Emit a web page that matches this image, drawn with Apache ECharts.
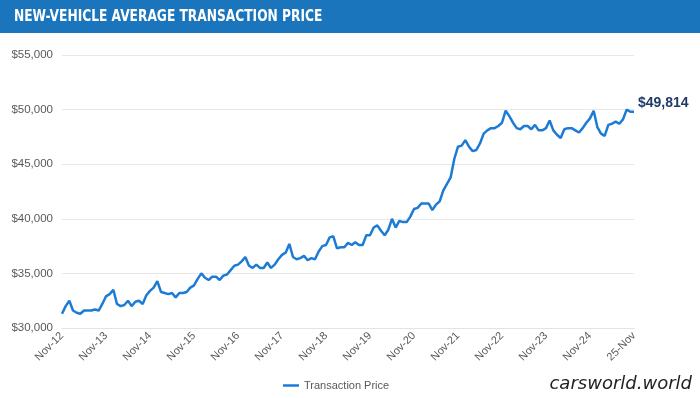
<!DOCTYPE html>
<html>
<head>
<meta charset="utf-8">
<script src="https://cdn.jsdelivr.net/npm/echarts@6/dist/echarts.min.js"></script>
<style>
  html, body { margin: 0; padding: 0; background: #fff; }
  #main { width: 700px; height: 398px; }
</style>
</head>
<body>
<div id="main"></div>
<script>
// monthly average transaction price, Nov 2012 .. Nov 2025
const prices = [
  31300, 32000, 32500, 31600, 31400, 31300, 31600, 31600, 31600, 31700, 31600, 32200,
  32900, 33100, 33500, 32200, 32000, 32100, 32500, 32000, 32400, 32500, 32200, 33000,
  33400, 33700, 34300, 33300, 33200, 33100, 33200, 32800, 33200, 33200, 33300, 33700,
  33900, 34500, 35000, 34600, 34400, 34700, 34700, 34400, 34800, 34900, 35300, 35700,
  35800, 36100, 36500, 35700, 35500, 35800, 35500, 35500, 36000, 35500, 35800, 36300,
  36700, 36900, 37700, 36500, 36300, 36400, 36600, 36200, 36400, 36300, 37000, 37500,
  37600, 38300, 38400, 37300, 37400, 37400, 37800, 37600, 37850, 37600, 37600, 38500,
  38500, 39200, 39400, 38900, 38500, 39000, 40000, 39200, 39800, 39700, 39700, 40200,
  40900, 41000, 41400, 41400, 41400, 40800, 41300, 41600, 42600, 43200, 43800, 45500,
  46600, 46700, 47200, 46600, 46200, 46300, 46900, 47800, 48100, 48300, 48300, 48500,
  48800, 49900, 49400, 48800, 48300, 48200, 48500, 48500, 48200, 48600, 48100, 48100,
  48300, 49000, 48100, 47700, 47400, 48200, 48300, 48300, 48100, 47900, 48300, 48800,
  49200, 49900, 48400, 47800, 47600, 48600, 48700, 48900, 48700, 49100, 50000, 49800,
  49814
];

const tickLabels = ['Nov-12', 'Nov-13', 'Nov-14', 'Nov-15', 'Nov-16', 'Nov-17', 'Nov-18',
  'Nov-19', 'Nov-20', 'Nov-21', 'Nov-22', 'Nov-23', 'Nov-24', '25-Nov'];

const monthNames = ['Nov', 'Dec', 'Jan', 'Feb', 'Mar', 'Apr', 'May', 'Jun', 'Jul', 'Aug', 'Sep', 'Oct'];
const months = prices.map((p, i) => monthNames[i % 12] + '-' + (12 + Math.floor((i + 10) / 12)));

const lineColor = '#1c7cd5';
const labelFont = '"Liberation Sans", Arial, sans-serif';

const chart = echarts.init(document.getElementById('main'));

chart.setOption({
  animation: false,
  grid: { left: 62, right: 66, top: 55, bottom: 70 },
  graphic: [
    { type: 'rect', shape: { x: 0, y: 0, width: 700, height: 33 }, style: { fill: '#1b75bc' } },
    {
      type: 'text', x: 14, y: 17, scaleX: 0.85,
      style: {
        text: 'NEW-VEHICLE AVERAGE TRANSACTION PRICE',
        fill: '#fff',
        font: 'bold 16px "DejaVu Sans Condensed", "DejaVu Sans", sans-serif',
        verticalAlign: 'middle'
      }
    },
    {
      type: 'text', right: 8, top: 375,
      style: {
        text: 'carsworld.world',
        fill: '#222',
        font: 'italic 200 18px "DejaVu Sans", sans-serif'
      }
    }
  ],
  legend: {
    left: 278, top: 375,
    itemWidth: 16, itemHeight: 2.5, itemGap: 4,
    icon: 'rect',
    textStyle: { color: '#595959', fontSize: 11, fontFamily: labelFont },
    data: ['Transaction Price']
  },
  xAxis: {
    type: 'category',
    boundaryGap: false,
    data: months,
    axisLine: { lineStyle: { color: '#e3e3e3' } },
    axisTick: { show: false },
    axisLabel: {
      interval: (idx) => idx % 12 === 0,
      formatter: (v, idx) => tickLabels[idx / 12],
      rotate: 45,
      margin: 6,
      color: '#595959',
      fontSize: 11,
      fontFamily: labelFont
    }
  },
  yAxis: {
    type: 'value',
    min: 30000, max: 55000, interval: 5000,
    axisLine: { show: false },
    axisTick: { show: false },
    splitLine: { lineStyle: { color: '#e8e8e8' } },
    axisLabel: {
      margin: 9,
      color: '#595959',
      fontSize: 11.5,
      fontFamily: labelFont,
      formatter: (v) => '$' + v.toLocaleString('en-US')
    }
  },
  series: [{
    name: 'Transaction Price',
    type: 'line',
    data: prices,
    showSymbol: false,
    symbol: 'none',
    color: lineColor,
    lineStyle: { width: 2.5, color: lineColor },
    endLabel: {
      show: true,
      distance: 4,
      offset: [0, -8],
      formatter: (p) => '$' + p.value.toLocaleString('en-US'),
      color: '#1f3a68',
      fontWeight: 'bold',
      fontSize: 14,
      fontFamily: labelFont
    }
  }]
});
</script>
</body>
</html>
